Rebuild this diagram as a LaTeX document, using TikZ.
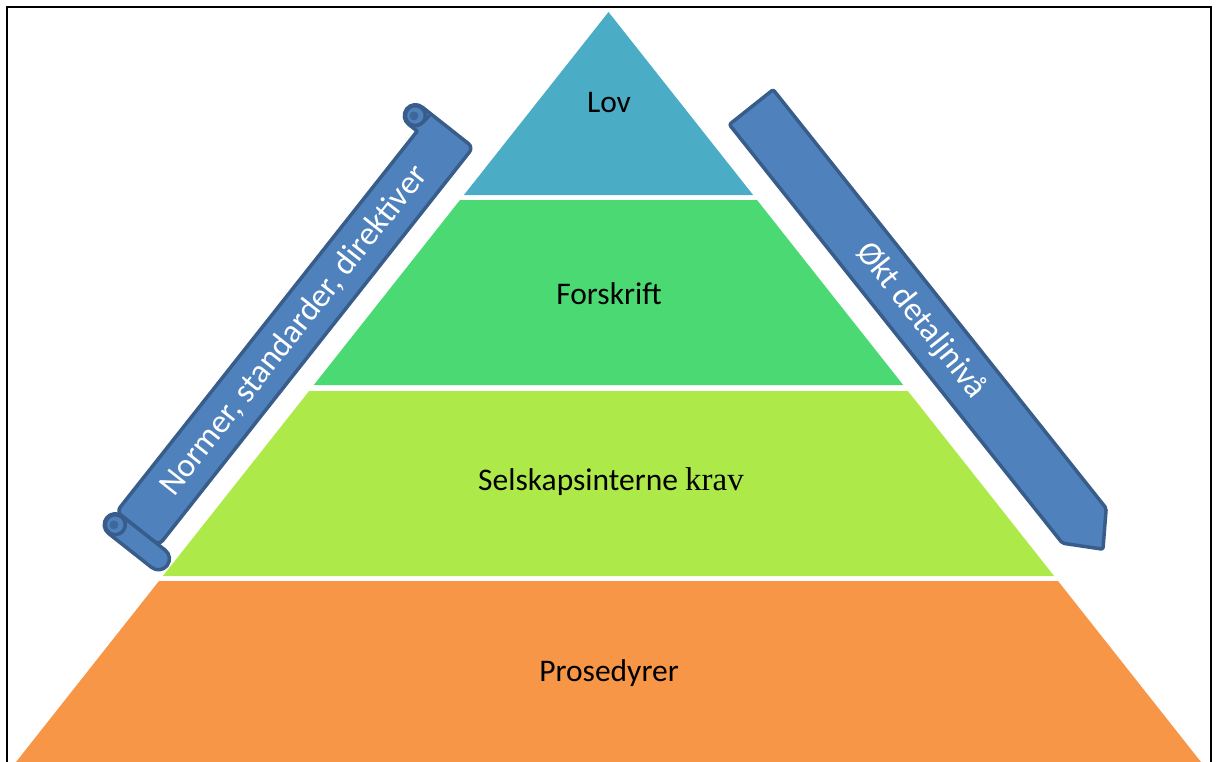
\documentclass[tikz,border=0pt]{standalone}
\usepackage{fontspec}
\setmainfont{Carlito}
\newfontfamily\serifkrav{Liberation Serif}
\definecolor{lovcol}{RGB}{75,172,198}
\definecolor{forcol}{RGB}{74,217,114}
\definecolor{selcol}{RGB}{173,234,73}
\definecolor{procol}{RGB}{247,150,70}
\definecolor{bandfill}{RGB}{79,129,189}
\definecolor{bandline}{RGB}{56,93,138}
\definecolor{bandcore}{RGB}{62,104,156}
\tikzset{
  layer/.style={draw=none},
  layertext/.style={text=black, font=\fontsize{31.5}{37}\selectfont, inner sep=0pt},
  band/.style={fill=bandfill, draw=bandline, line width=3.5pt, line join=round},
  bandtext/.style={text=white, font=\fontsize{33.5}{40}\selectfont, inner sep=0pt},
}
\begin{document}
\begin{tikzpicture}[x=1pt, y=-1pt]
\useasboundingbox (0,0) rectangle (1217,762);

% outer frame
\draw[line width=2pt] (6.5,775) -- (6.5,7.5) -- (1211,7.5) -- (1211,775);

% pyramid levels
\fill[lovcol, layer] (608.5,12) -- (753.1,195) -- (463.9,195) -- cycle;
\fill[forcol, layer] (460.0,200) -- (757.0,200) -- (903.2,385) -- (313.8,385) -- cycle;
\fill[selcol, layer] (309.1,391) -- (907.9,391) -- (1054.1,576) -- (162.9,576) -- cycle;
\fill[procol, layer] (159.0,581) -- (1058.0,581) -- (1207.3,770) -- (9.7,770) -- cycle;

\node[layertext] (lov) at (609,103) {Lov};
\node[layertext] (forskrift) at (609,294) {Forskrift};
\node[layertext] (selskap) at (611,482) {Selskapsinterne {\serifkrav\fontsize{33}{38}\selectfont krav}};
\node[layertext] (prosedyrer) at (609,673) {Prosedyrer};

% rolled scroll along the left side
\begin{scope}[shift={(289,337)}, rotate=51.7]
  \draw[band] (-244,-27) -- (241,-27) -- (241,-38)
     arc[start angle=180, end angle=360, radius=11]
     [rounded corners=6] -- (263,27) -- (-244,27) -- cycle;
  \draw[band] (252,-38) circle[radius=10];
  \fill[bandcore] (251,-39) circle[radius=4.5];
  \draw[bandline, line width=3pt, line cap=round]
     (262,-27) .. controls (252,-27) and (245,-29) .. (243,-34);
  % lower roll
  \draw[band] (-266,-20) -- (-266,35) arc[start angle=180, end angle=0, radius=11]
     -- (-244,-20) arc[start angle=0, end angle=-180, radius=11] -- cycle;
  \draw[band] (-255,-20) circle[radius=10];
  \fill[bandcore] (-256,-21) circle[radius=4.5];
  \node[bandtext, transform shape] (normer) at (8,0) {Normer, standarder, direktiver};
\end{scope}

% arrow along the right side
\begin{scope}[shift={(750,105.5)}, rotate=-51.5]
  \draw[band, rounded corners=2] (2,-28) -- (537,-28) -- (567,0) -- (537,28) -- (2,28) -- cycle;
  \node[bandtext, transform shape] (detalj) at (275,0) {Økt detaljnivå};
\end{scope}
\end{tikzpicture}
\end{document}
